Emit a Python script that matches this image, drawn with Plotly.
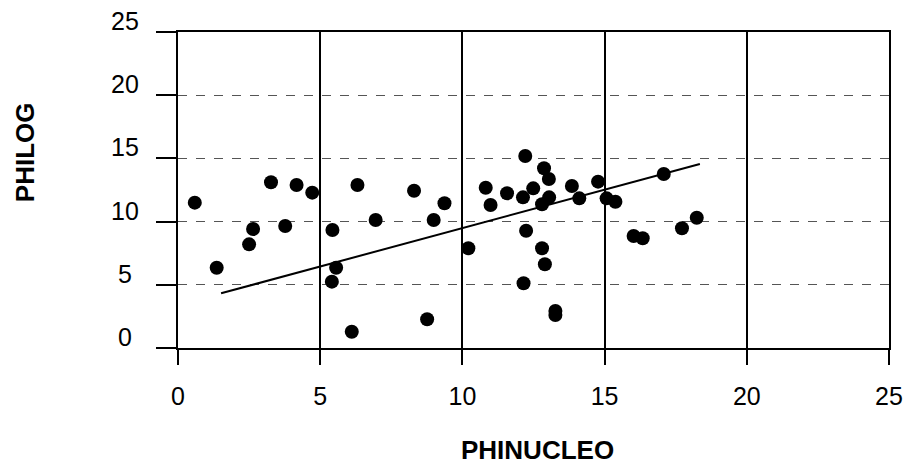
import plotly.graph_objects as go

# Data
phinucleo = [0.59, 1.36, 2.50, 2.64, 3.27, 3.77, 4.17, 4.72, 5.43, 5.56, 5.41, 6.11,
             6.31, 6.95, 8.30, 8.76, 8.99, 9.37, 10.21, 10.82, 10.99, 11.57, 12.21,
             12.13, 12.24, 12.49, 12.80, 13.05, 12.87, 13.04, 12.80, 12.90, 12.15,
             13.27, 13.27, 13.85, 14.11, 14.77, 15.07, 15.38, 16.02, 16.34, 17.08,
             17.72, 18.24]
philog = [11.50, 6.35, 8.20, 9.41, 13.11, 9.65, 12.90, 12.29, 9.34, 6.35, 5.25, 1.29,
          12.90, 10.13, 12.44, 2.27, 10.13, 11.45, 7.89, 12.68, 11.31, 12.24, 15.19,
          11.92, 9.28, 12.63, 11.37, 11.92, 14.22, 13.37, 7.89, 6.62, 5.12,
          2.93, 2.61, 12.82, 11.84, 13.16, 11.84, 11.57, 8.86, 8.68, 13.77,
          9.47, 10.31]

trend_x = [1.515, 18.35]
trend_y = [4.33, 14.56]

tick_vals = [0, 5, 10, 15, 20, 25]
tick_text = ["0", "5", "10", "15", "20", "25"]

FONT = "Arial, Liberation Sans, sans-serif"

fig = go.Figure()
fig.add_trace(go.Scatter(
    x=phinucleo, y=philog, mode="markers",
    marker=dict(color="black", size=14, line=dict(width=0)),
    showlegend=False, hoverinfo="x+y"))
fig.add_trace(go.Scatter(
    x=trend_x, y=trend_y, mode="lines",
    line=dict(color="black", width=2),
    showlegend=False, hoverinfo="skip"))

# y tick labels drawn as annotations on the y axis (shifted upward as in the reference)
y_tick_annotations = [
    dict(text=t, xref="paper", yref="y", x=(124 - 178) / 721, y=v,
         xanchor="center", yanchor="middle", yshift=11, showarrow=False,
         font=dict(size=25, family=FONT, color="black"))
    for v, t in zip(tick_vals, tick_text)
]

fig.update_layout(
    width=915, height=475,
    margin=dict(l=178, r=16, t=32, b=127),
    paper_bgcolor="white", plot_bgcolor="white",
    font=dict(family=FONT, color="black", size=25),
    xaxis=dict(
        range=[0, 25], tickvals=tick_vals, ticktext=tick_text,
        showgrid=True, gridcolor="black", gridwidth=1.5,
        showline=True, linecolor="black", linewidth=2, mirror=True,
        ticks="outside", ticklen=15, tickcolor="black", tickwidth=1.5,
        ticklabelstandoff=10,
        tickfont=dict(size=25, family=FONT),
        zeroline=False,
    ),
    yaxis=dict(
        range=[0, 25], tickvals=tick_vals, showticklabels=False,
        showgrid=True, gridcolor="#555555", gridwidth=1, griddash="dash",
        showline=True, linecolor="black", linewidth=2, mirror=True,
        ticks="outside", ticklen=20, tickcolor="black", tickwidth=1.5,
        zeroline=False,
    ),
    annotations=y_tick_annotations + [
        dict(text="<b>PHILOG</b>", xref="paper", yref="paper",
             x=-0.215, y=0.62, xanchor="center", yanchor="middle",
             textangle=-90, showarrow=False, font=dict(size=26, family=FONT)),
        dict(text="<b>PHINUCLEO</b>", xref="paper", yref="paper",
             x=0.506, y=-0.323, xanchor="center", yanchor="middle",
             showarrow=False, font=dict(size=26, family=FONT)),
    ],
)

fig.write_html("out.html")
